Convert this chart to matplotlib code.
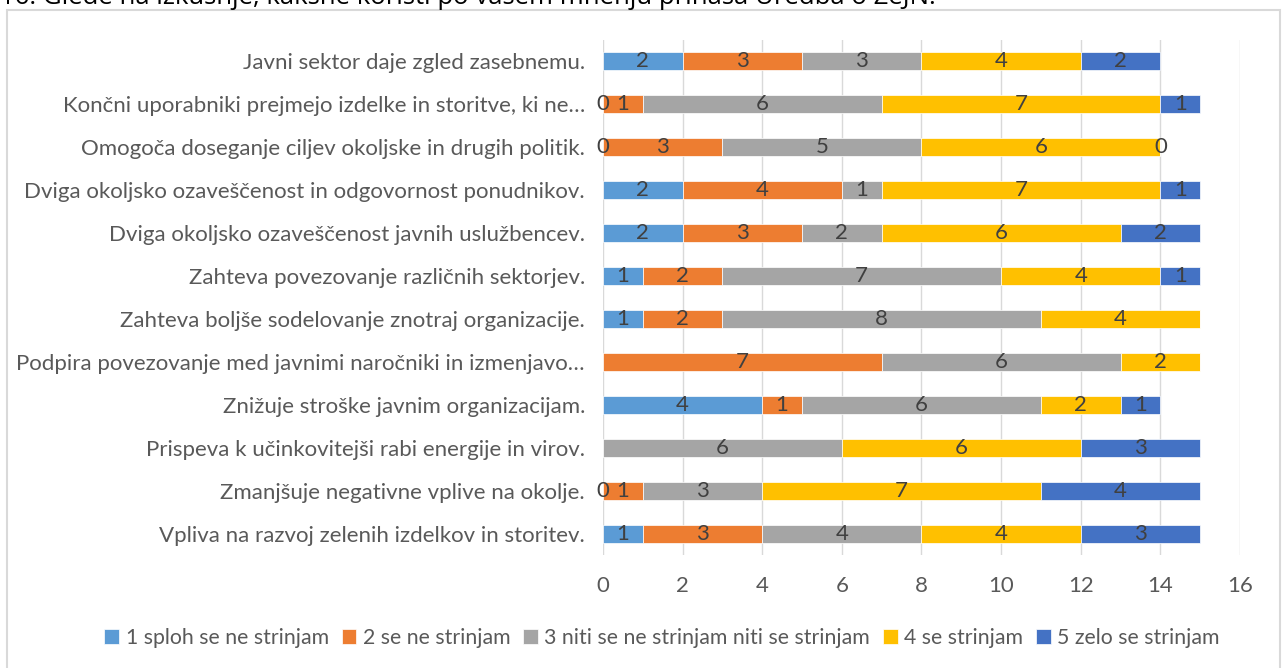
import numpy as np
import matplotlib.pyplot as plt
from matplotlib.patches import Rectangle

plt.rcParams['font.family'] = ['Lato', 'DejaVu Sans']

# categories, bottom to top
categories = [
    "Vpliva na razvoj zelenih izdelkov in storitev.",
    "Zmanjšuje negativne vplive na okolje.",
    "Prispeva k učinkovitejši rabi energije in virov.",
    "Znižuje stroške javnim organizacijam.",
    "Podpira povezovanje med javnimi naročniki in izmenjavo…",
    "Zahteva boljše sodelovanje znotraj organizacije.",
    "Zahteva povezovanje različnih sektorjev.",
    "Dviga okoljsko ozaveščenost javnih uslužbencev.",
    "Dviga okoljsko ozaveščenost in odgovornost ponudnikov.",
    "Omogoča doseganje ciljev okoljske in drugih politik.",
    "Končni uporabniki prejmejo izdelke in storitve, ki ne…",
    "Javni sektor daje zgled zasebnemu.",
]

nan = np.nan
s1 = [1, 0, nan, 4, nan, 1, 1, 2, 2, 0, 0, 2]
s2 = [3, 1, nan, 1, 7, 2, 2, 3, 4, 3, 1, 3]
s3 = [4, 3, 6, 6, 6, 8, 7, 2, 1, 5, 6, 3]
s4 = [4, 7, 6, 2, 2, 4, 4, 6, 7, 6, 7, 4]
s5 = [3, 4, 3, 1, nan, nan, 1, 2, 1, 0, 1, 2]

series_names = ["1 sploh se ne strinjam", "2 se ne strinjam",
                "3 niti se ne strinjam niti se strinjam", "4 se strinjam",
                "5 zelo se strinjam"]
colors = ["#5B9BD5", "#ED7D31", "#A5A5A5", "#FFC000", "#4472C4"]

fig = plt.figure(figsize=(12.84, 6.68), dpi=100)
ax = fig.add_axes([0.4696, 0.1692, 0.4961, 0.7709])

# outer chart border (bottom edge runs off the image)
fig.patches.append(Rectangle((7 / 1284, -0.05), 1273 / 1284, 1 - 10 / 668 + 0.05,
                             transform=fig.transFigure, fill=False,
                             edgecolor="#D9D9D9", linewidth=1.5))

# cut-off title at the very top
fig.text(0.0, 1 - 4 / 668, "16. Glede na izkušnje, kakšne koristi po vašem mnenju prinaša Uredba o ZeJN.",
         fontsize=18.5, color="black", ha="left", va="baseline",
         family=['Open Sans', 'DejaVu Sans'])

y = np.arange(len(categories))
left = np.zeros(len(categories))
for name, vals, col in zip(series_names, [s1, s2, s3, s4, s5], colors):
    vals = np.array(vals, dtype=float)
    w = np.nan_to_num(vals)
    bars = ax.barh(y, w, left=left, height=0.42,
                   color=col, edgecolor="white", linewidth=0.5, label=name, zorder=3)
    labels = ["" if np.isnan(v) else f"{int(v)}" for v in vals]
    ax.bar_label(bars, labels=labels, label_type="center", fontsize=16,
                 color="#404040", zorder=6)
    left += w

ax.set_xlim(0, 16)
ax.set_ylim(-0.5, 11.5)
ax.set_xticks(range(0, 17, 2))
ax.set_yticks(y)
ax.set_yticklabels(categories)
ax.grid(axis="x", color="#D9D9D9", linewidth=1, zorder=0)
ax.set_axisbelow(True)
for sp in ax.spines.values():
    sp.set_visible(False)
ax.tick_params(axis="both", length=0, labelsize=16, labelcolor="#595959")
ax.tick_params(axis="y", pad=13)
ax.tick_params(axis="x", pad=15)

fig.legend(loc="center", bbox_to_anchor=(662 / 1284, 1 - 638 / 668), ncol=5,
           frameon=False, fontsize=15.3, handlelength=0.7, handleheight=0.7,
           handletextpad=0.3, columnspacing=0.6, labelcolor="#595959")

fig.savefig("out.png", dpi=100)
